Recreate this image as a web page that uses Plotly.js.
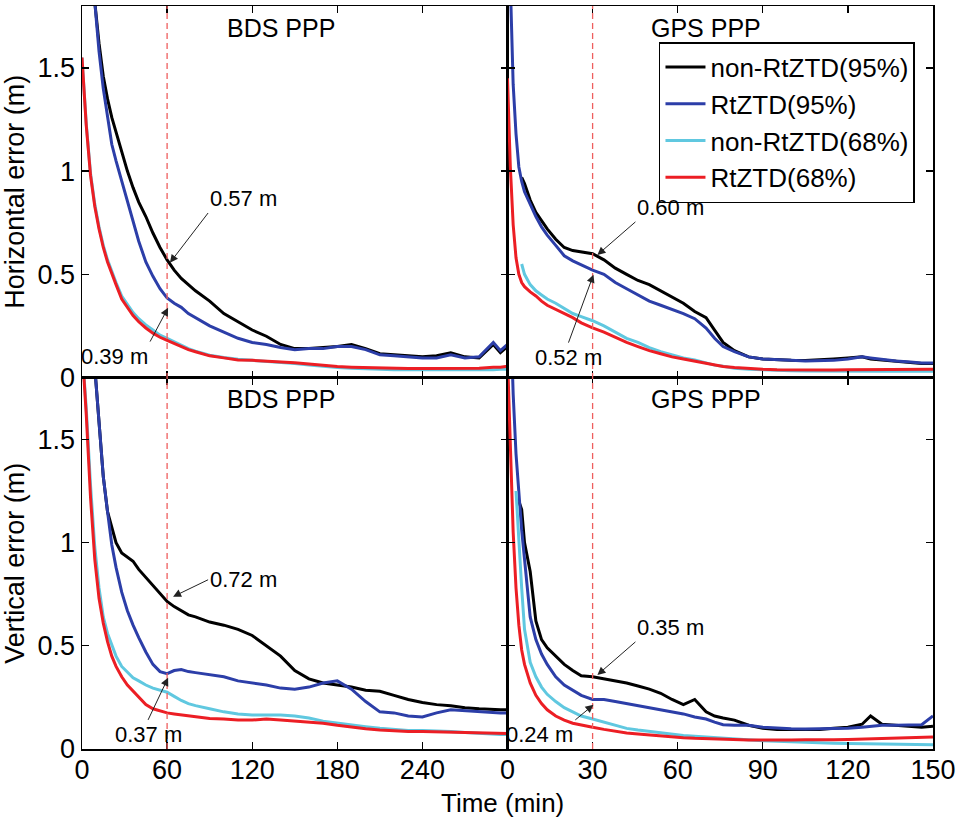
<!DOCTYPE html>
<html><head><meta charset="utf-8">
<script src="https://cdn.plot.ly/plotly-3.0.1.min.js"></script>
<style>html,body{margin:0;padding:0;background:#fff}#chart{width:962px;height:817px}</style>
</head><body><div id="chart"></div><script>
// ---- data (minutes, metres) ----
var timeBDS = [0,3,6,9,12,15,18,21,24,28,32,36,40,45,50,55,60,65,70,75,80,90,100,110,120,130,140,150,160,170,180,190,200,210,220,230,240,250,260,270,280,290,295,300];
var timeGPS = [0,1,2,3,4,5,6,8,10,12,14,17,20,23,26,30,34,38,42,46,50,54,58,62,66,70,73,76,80,85,90,95,100,105,110,115,120,125,128,132,137,142,146,150];

var seriesNames = ['non-RtZTD(95%)','RtZTD(95%)','non-RtZTD(68%)','RtZTD(68%)'];
var panelTitles = ['BDS PPP','GPS PPP','BDS PPP','GPS PPP'];

// BDS horizontal
var bdsH_non95 = [2.6,2.3,2.05,1.82,1.62,1.46,1.35,1.26,1.19,1.09,1.0,0.92,0.85,0.78,0.70,0.63,0.57,0.52,0.48,0.45,0.42,0.37,0.31,0.27,0.23,0.20,0.16,0.14,0.14,0.145,0.15,0.16,0.14,0.115,0.11,0.105,0.10,0.105,0.12,0.10,0.095,0.16,0.12,0.15];
var bdsH_rt95  = [2.6,2.3,2.05,1.82,1.58,1.40,1.26,1.13,1.05,0.95,0.85,0.75,0.66,0.56,0.49,0.43,0.385,0.36,0.34,0.31,0.29,0.25,0.22,0.19,0.17,0.16,0.145,0.135,0.14,0.14,0.15,0.15,0.135,0.11,0.105,0.10,0.095,0.095,0.11,0.095,0.10,0.17,0.13,0.16];
var bdsH_non68 = [1.55,1.23,0.99,0.84,0.73,0.64,0.57,0.51,0.46,0.395,0.355,0.315,0.285,0.255,0.23,0.205,0.19,0.172,0.155,0.14,0.128,0.108,0.097,0.088,0.083,0.078,0.074,0.068,0.06,0.053,0.048,0.045,0.042,0.04,0.038,0.037,0.037,0.037,0.037,0.036,0.036,0.038,0.04,0.04];
var bdsH_rt68  = [1.55,1.22,0.98,0.83,0.72,0.63,0.56,0.50,0.45,0.38,0.34,0.30,0.27,0.24,0.215,0.195,0.18,0.165,0.15,0.135,0.125,0.105,0.095,0.085,0.083,0.08,0.078,0.072,0.065,0.058,0.053,0.05,0.048,0.046,0.045,0.044,0.044,0.045,0.044,0.045,0.045,0.05,0.05,0.055];

// GPS horizontal
var gpsH_non95 = [null,null,null,null,null,0.97,0.94,0.86,0.80,0.76,0.72,0.67,0.63,0.615,0.61,0.60,0.57,0.53,0.50,0.47,0.45,0.42,0.39,0.36,0.32,0.29,0.23,0.17,0.13,0.10,0.09,0.085,0.083,0.082,0.085,0.09,0.095,0.10,0.09,0.085,0.078,0.072,0.068,0.068];
var gpsH_rt95  = [2.4,1.85,1.42,1.18,1.02,0.95,0.90,0.84,0.78,0.73,0.69,0.64,0.59,0.565,0.545,0.52,0.50,0.46,0.43,0.40,0.37,0.35,0.33,0.31,0.285,0.24,0.19,0.15,0.125,0.10,0.09,0.085,0.083,0.08,0.08,0.083,0.09,0.10,0.095,0.088,0.08,0.075,0.07,0.07];
var gpsH_non68 = [null,null,null,null,null,0.55,0.50,0.45,0.42,0.40,0.38,0.36,0.335,0.31,0.295,0.275,0.25,0.22,0.19,0.17,0.145,0.125,0.11,0.095,0.085,0.07,0.06,0.055,0.045,0.04,0.037,0.035,0.033,0.032,0.031,0.03,0.03,0.03,0.03,0.03,0.03,0.03,0.03,0.03];
var gpsH_rt68  = [1.45,1.02,0.74,0.58,0.50,0.46,0.44,0.415,0.395,0.37,0.35,0.33,0.31,0.29,0.265,0.24,0.22,0.195,0.17,0.15,0.13,0.115,0.10,0.09,0.08,0.068,0.06,0.053,0.048,0.043,0.04,0.038,0.037,0.036,0.036,0.036,0.037,0.038,0.038,0.038,0.039,0.04,0.04,0.04];

// BDS vertical
var bdsV_non95 = [3.0,2.6,2.15,1.85,1.56,1.32,1.15,1.07,1.0,0.95,0.93,0.91,0.87,0.83,0.79,0.75,0.715,0.69,0.67,0.65,0.64,0.615,0.60,0.58,0.55,0.50,0.45,0.38,0.34,0.32,0.31,0.30,0.285,0.28,0.26,0.24,0.225,0.215,0.21,0.20,0.195,0.19,0.19,0.19];
var bdsV_rt95  = [3.0,2.6,2.15,1.85,1.56,1.32,1.15,0.99,0.88,0.76,0.67,0.60,0.54,0.47,0.41,0.375,0.365,0.38,0.385,0.375,0.37,0.36,0.35,0.33,0.32,0.31,0.295,0.29,0.30,0.32,0.33,0.29,0.23,0.18,0.175,0.16,0.155,0.175,0.19,0.185,0.18,0.175,0.175,0.175];
var bdsV_non68 = [1.95,1.65,1.28,0.98,0.78,0.64,0.56,0.50,0.45,0.40,0.37,0.345,0.33,0.31,0.295,0.285,0.275,0.255,0.235,0.22,0.21,0.195,0.18,0.17,0.165,0.165,0.165,0.16,0.15,0.135,0.125,0.115,0.108,0.10,0.095,0.09,0.09,0.088,0.085,0.08,0.075,0.072,0.07,0.07];
var bdsV_rt68  = [1.95,1.62,1.22,0.92,0.73,0.61,0.52,0.45,0.40,0.35,0.31,0.28,0.25,0.215,0.195,0.185,0.175,0.17,0.165,0.16,0.155,0.148,0.145,0.14,0.14,0.145,0.14,0.135,0.13,0.125,0.115,0.105,0.098,0.092,0.088,0.085,0.085,0.083,0.08,0.078,0.076,0.075,0.075,0.075];

// GPS vertical
var gpsV_non95 = [null,null,null,null,1.2,1.16,1.0,0.86,0.62,0.53,0.49,0.45,0.41,0.38,0.355,0.35,0.34,0.33,0.32,0.305,0.29,0.27,0.24,0.215,0.24,0.18,0.16,0.15,0.14,0.115,0.10,0.095,0.095,0.095,0.095,0.10,0.105,0.12,0.16,0.12,0.115,0.11,0.105,0.11];
var gpsV_rt95  = [2.6,2.1,1.72,1.43,1.22,1.06,0.92,0.64,0.53,0.46,0.41,0.35,0.31,0.285,0.26,0.24,0.24,0.23,0.22,0.21,0.20,0.19,0.18,0.17,0.155,0.145,0.13,0.118,0.115,0.115,0.105,0.10,0.098,0.097,0.097,0.10,0.10,0.105,0.11,0.115,0.115,0.115,0.118,0.16];
var gpsV_non68 = [null,null,null,1.25,1.0,0.78,0.58,0.42,0.35,0.30,0.265,0.23,0.20,0.18,0.16,0.145,0.13,0.115,0.10,0.092,0.085,0.078,0.07,0.065,0.062,0.058,0.055,0.052,0.048,0.044,0.04,0.037,0.034,0.032,0.03,0.028,0.027,0.026,0.025,0.024,0.023,0.022,0.021,0.02];
var gpsV_rt68  = [1.9,1.5,1.05,0.78,0.6,0.48,0.41,0.32,0.26,0.22,0.19,0.16,0.14,0.125,0.115,0.105,0.095,0.085,0.078,0.073,0.068,0.063,0.058,0.055,0.052,0.05,0.048,0.047,0.045,0.044,0.044,0.043,0.044,0.045,0.044,0.045,0.046,0.048,0.05,0.05,0.052,0.055,0.056,0.058];

// ---- styling ----
var colors = ['#000000','rgb(44,62,168)','rgb(96,200,224)','rgb(236,30,36)'];
var FONT = 'Liberation Sans, Arial, Helvetica, sans-serif';

var panels = [
  {x: timeBDS, ys: [bdsH_non95,bdsH_rt95,bdsH_non68,bdsH_rt68], xa:'x3', ya:'y3', legend:true},
  {x: timeGPS, ys: [gpsH_non95,gpsH_rt95,gpsH_non68,gpsH_rt68], xa:'x4', ya:'y4', legend:false},
  {x: timeBDS, ys: [bdsV_non95,bdsV_rt95,bdsV_non68,bdsV_rt68], xa:'x',  ya:'y',  legend:false},
  {x: timeGPS, ys: [gpsV_non95,gpsV_rt95,gpsV_non68,gpsV_rt68], xa:'x2', ya:'y2', legend:false}
];
var traces = [];
panels.forEach(function(p){
  p.ys.forEach(function(y, i){
    traces.push({type:'scatter', mode:'lines', x:p.x, y:y, xaxis:p.xa, yaxis:p.ya,
      name:seriesNames[i], showlegend:p.legend, connectgaps:false,
      line:{color:colors[i], width:3}});
  });
});

function ax(extra){
  var a = {showline:true, linecolor:'#000', linewidth:1.5, mirror:'ticks', ticks:'inside',
    ticklen:7, tickwidth:1.3, tickcolor:'#000', showgrid:false, zeroline:false,
    tickfont:{family:FONT, size:27, color:'#000'}};
  for (var k in extra) a[k] = extra[k];
  return a;
}
var yTicks = [0,0.5,1,1.5], yText = ['0','0.5','1','1.5'];

var layout = {
  width:962, height:817, paper_bgcolor:'#fff', plot_bgcolor:'#fff',
  margin:{l:82, r:29, t:6, b:68},
  font:{family:FONT, color:'#000'},
  xaxis:  ax({domain:[0,0.5], anchor:'y',  range:[0,300], tickvals:[0,60,120,180,240,300], ticktext:['0','60','120','180','240',''], ticklabelstandoff:-4}),
  yaxis:  ax({domain:[0,0.5], anchor:'x',  range:[0,1.8], tickvals:yTicks, ticktext:yText,
          title:{text:'Vertical error (m)', font:{family:FONT, size:27, color:'#000'}, standoff:6}}),
  xaxis2: ax({domain:[0.5,1], anchor:'y2', range:[0,150], tickvals:[0,30,60,90,120,150], ticklabelstandoff:-4}),
  yaxis2: ax({domain:[0,0.5], anchor:'x2', range:[0,1.8], tickvals:yTicks, showticklabels:false}),
  xaxis3: ax({domain:[0,0.5], anchor:'y3', range:[0,300], tickvals:[0,60,120,180,240,300], showticklabels:false}),
  yaxis3: ax({domain:[0.5,1], anchor:'x3', range:[0,1.8], tickvals:yTicks, ticktext:yText,
          title:{text:'Horizontal error (m)', font:{family:FONT, size:27, color:'#000'}, standoff:6}}),
  xaxis4: ax({domain:[0.5,1], anchor:'y4', range:[0,150], tickvals:[0,30,60,90,120,150], showticklabels:false}),
  yaxis4: ax({domain:[0.5,1], anchor:'x4', range:[0,1.8], tickvals:yTicks, showticklabels:false}),
  legend:{x:0.678, y:0.9515, xanchor:'left', yanchor:'top', bgcolor:'#fff', bordercolor:'#000',
    borderwidth:1.5, font:{family:FONT, size:26, color:'#000'}, tracegroupgap:0, itemwidth:40},
  shapes:[
    {type:'line', xref:'x', yref:'paper', x0:60, x1:60, y0:0, y1:1, line:{color:'rgb(238,95,95)', width:1.3, dash:'6px,4px'}},
    {type:'line', xref:'x2', yref:'paper', x0:30, x1:30, y0:0, y1:1, line:{color:'rgb(238,95,95)', width:1.3, dash:'6px,4px'}}
  ],
  annotations:[]
};

// panel titles
[['x3','y3 domain',140,0.941,panelTitles[0]],['x4','y4 domain',70,0.941,panelTitles[1]],
 ['x','y domain',140,0.943,panelTitles[2]],['x2','y2 domain',70,0.943,panelTitles[3]]].forEach(function(t){
  layout.annotations.push({xref:t[0], yref:t[1], x:t[2], y:t[3], text:t[4], showarrow:false,
    xanchor:'center', yanchor:'middle', font:{family:FONT, size:25, color:'#000'}});
});

// value call-outs: [xref, yref, headX, headY, tailX, tailY, text, xanchor, yanchor]
var callouts = [
  ['x3','y3',62,0.556,88.9,0.797,'0.57 m','left','bottom'],
  ['x3','y3',60.7,0.338,48,0.174,'0.39 m','right','top'],
  ['x4','y4',31.7,0.594,45.1,0.754,'0.60 m','left','bottom'],
  ['x4','y4',30.3,0.498,21.5,0.169,'0.52 m','center','top'],
  ['x','y',64.2,0.738,88.9,0.82,'0.72 m','left','middle'],
  ['x','y',60.7,0.345,46.6,0.141,'0.37 m','center','top'],
  ['x2','y2',31.7,0.359,45.1,0.519,'0.35 m','left','bottom'],
  ['x2','y2',30.3,0.214,23.9,0.141,'0.24 m','right','top']
];
callouts.forEach(function(c){
  layout.annotations.push({xref:c[0], yref:c[1], x:c[2], y:c[3], axref:c[0], ayref:c[1], ax:c[4], ay:c[5],
    text:c[6], xanchor:c[7], yanchor:c[8], showarrow:true, arrowhead:2, arrowsize:1.6, arrowwidth:1,
    arrowcolor:'#222', font:{family:FONT, size:22, color:'#000'}});
});

layout.annotations.push({xref:'paper', yref:'paper', x:0.4947, y:-0.0725, text:'Time (min)',
  showarrow:false, xanchor:'center', yanchor:'middle', font:{family:FONT, size:26, color:'#000'}});

Plotly.newPlot('chart', traces, layout, {displayModeBar:false, staticPlot:true});
</script></body></html>
